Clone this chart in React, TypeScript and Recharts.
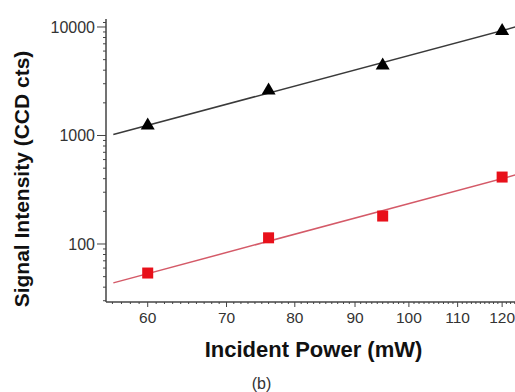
import { ComposedChart, Line, Scatter, XAxis, YAxis } from "recharts";

// measured points
const POWER = [60, 76, 95, 120];
const BLACK_SIGNAL = [1290, 2710, 4610, 9590];
const RED_SIGNAL = [54, 114, 181, 414];

// fitted lines (end points, log-log straight)
const FIT_POWER = [56.1, 125];
const BLACK_FIT = [1020, 10450];
const RED_FIT = [43.8, 452];

const X_MAJOR = [60, 70, 80, 90, 100, 110, 120];
const Y_MAJOR = [100, 1000, 10000];
const X_DOMAIN = [55.3, 125];
const Y_DOMAIN = [29.2, 11850];

const X_TICKS: number[] = [];
for (let v = 56; v <= 125; v++) X_TICKS.push(v);
const Y_TICKS: number[] = [];
[10, 100, 1000].forEach((d) => {
  for (let m = 1; m <= 9; m++) {
    const v = d * m;
    if (v >= 30) Y_TICKS.push(v);
  }
});
Y_TICKS.push(10000, 11000);

const blackPts = POWER.map((x, i) => ({ x, y: BLACK_SIGNAL[i] }));
const redPts = POWER.map((x, i) => ({ x, y: RED_SIGNAL[i] }));
const blackFit = FIT_POWER.map((x, i) => ({ x, y: BLACK_FIT[i] }));
const redFit = FIT_POWER.map((x, i) => ({ x, y: RED_FIT[i] }));

const FONT = '"Liberation Sans", Arial, sans-serif';
const AXIS = "#444";

function XTick({ x, y, payload }: any) {
  const major = X_MAJOR.includes(payload.value);
  return (
    <g>
      <line x1={x} x2={x} y1={y} y2={y + (major ? 5 : 2)} stroke={AXIS} strokeWidth={1} />
      {major && (
        <text x={x} y={y + 21} textAnchor="middle" fontSize={15.5} fontFamily={FONT} fill="#333">
          {payload.value}
        </text>
      )}
    </g>
  );
}

function YTick({ x, y, payload }: any) {
  const major = Y_MAJOR.includes(payload.value);
  return (
    <g>
      <line x1={x - (major ? 9 : 3)} x2={x} y1={y} y2={y} stroke={AXIS} strokeWidth={1} />
      {major && (
        <text x={x - 11} y={y + 5.7} textAnchor="end" fontSize={16} fontFamily={FONT} fill="#333">
          {payload.value}
        </text>
      )}
    </g>
  );
}

const Triangle = ({ cx, cy }: any) => (
  <polygon points={`${cx},${cy - 6} ${cx + 7},${cy + 6} ${cx - 7},${cy + 6}`} fill="#000" />
);

const Square = ({ cx, cy }: any) => (
  <rect x={cx - 5.5} y={cy - 5.5} width={11} height={11} fill="#e8101a" />
);

export default function App() {
  return (
    <div
      style={{
        position: "absolute",
        left: 0,
        top: 0,
        width: 515,
        height: 392,
        overflow: "hidden",
        background: "#fff",
      }}
    >
      <ComposedChart width={530} height={392} margin={{ top: 19, right: 7, bottom: 0, left: 0 }}>
        <XAxis
          dataKey="x"
          type="number"
          scale="log"
          domain={X_DOMAIN}
          allowDataOverflow
          ticks={X_TICKS}
          interval={0}
          tick={<XTick />}
          tickLine={false}
          tickSize={0}
          tickMargin={0}
          height={90}
          axisLine={{ stroke: AXIS, strokeWidth: 1.5 }}
        />
        <XAxis
          xAxisId="top"
          orientation="top"
          dataKey="x"
          type="number"
          scale="log"
          domain={X_DOMAIN}
          allowDataOverflow
          height={0}
          tick={false}
          tickLine={false}
          axisLine={{ stroke: "#8a8a8a", strokeWidth: 2 }}
        />
        <YAxis
          type="number"
          scale="log"
          domain={Y_DOMAIN}
          allowDataOverflow
          ticks={Y_TICKS}
          interval={0}
          tick={<YTick />}
          tickLine={false}
          tickSize={0}
          tickMargin={0}
          width={106}
          axisLine={{ stroke: AXIS, strokeWidth: 1.5 }}
        />
        <Line
          data={blackFit}
          dataKey="y"
          type="linear"
          stroke="#3a3a3a"
          strokeWidth={1.5}
          dot={false}
          activeDot={false}
          isAnimationActive={false}
        />
        <Line
          data={redFit}
          dataKey="y"
          type="linear"
          stroke="#d45a68"
          strokeWidth={1.5}
          dot={false}
          activeDot={false}
          isAnimationActive={false}
        />
        <Scatter data={blackPts} dataKey="y" shape={<Triangle />} isAnimationActive={false} />
        <Scatter data={redPts} dataKey="y" shape={<Square />} isAnimationActive={false} />
      </ComposedChart>
      <svg
        width={515}
        height={392}
        style={{ position: "absolute", left: 0, top: 0, pointerEvents: "none" }}
      >
        <text
          x={313.5}
          y={357}
          textAnchor="middle"
          fontSize={22}
          fontWeight="bold"
          fontFamily={FONT}
          fill="#111"
        >
          Incident Power (mW)
        </text>
        <text
          x={29}
          y={179}
          transform="rotate(-90, 29, 179)"
          textAnchor="middle"
          fontSize={21}
          fontWeight="bold"
          fontFamily={FONT}
          fill="#111"
        >
          Signal Intensity (CCD cts)
        </text>
        <text x={261.5} y={389} textAnchor="middle" fontSize={16} fontFamily={FONT} fill="#333">
          (b)
        </text>
      </svg>
    </div>
  );
}
